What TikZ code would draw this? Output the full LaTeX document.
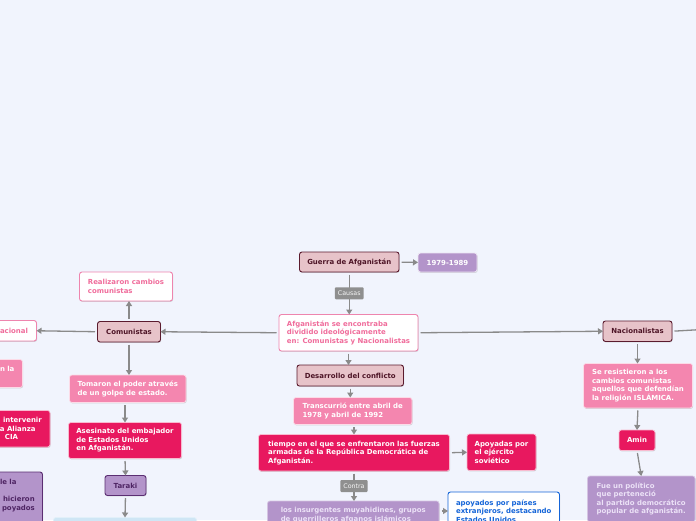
\documentclass[tikz,border=0pt]{standalone}
\usepackage{fontspec}
\setmainfont{DejaVu Sans}
\usetikzlibrary{arrows.meta,shadows}
\definecolor{bgc}{HTML}{F1F4FD}
\definecolor{palefill}{HTML}{E7C3C9}
\definecolor{maroonline}{HTML}{5B1B2E}
\definecolor{maroontext}{HTML}{4D1426}
\definecolor{purpfill}{HTML}{B394CA}
\definecolor{purpline}{HTML}{5B2E72}
\definecolor{purptext}{HTML}{4E2463}
\definecolor{lavtext}{HTML}{ECE2F7}
\definecolor{pinkmid}{HTML}{F486AF}
\definecolor{magfill}{HTML}{E8185F}
\definecolor{pinkline}{HTML}{EE85AE}
\definecolor{pinktext}{HTML}{F06C9B}
\definecolor{bluec}{HTML}{1565D8}
\definecolor{lightblue}{HTML}{CFE6F5}
\definecolor{connc}{HTML}{8A8A8A}
\definecolor{lblc}{HTML}{8F8F8F}
\newcommand\bx[7]{\node[#1, anchor=north west, minimum width=#5pt, minimum height=#6pt] (#2) at (#3,#4) {#7};}
\begin{document}
\begin{tikzpicture}[x=1pt,y=-1pt,
  boxbase/.style={rounded corners=2.5pt, inner xsep=7.5pt, inner ysep=0pt, outer sep=0pt,
    font=\bfseries\fontsize{6.95}{8.6}\selectfont, align=left,
    drop shadow={shadow xshift=0.6pt,shadow yshift=-0.9pt,opacity=0.25,fill=black!60}},
  mainbox/.style={boxbase, fill=palefill, draw=maroonline, line width=0.9pt, text=maroontext, align=center},
  wpink/.style={boxbase, fill=white, draw=pinkline, line width=0.9pt, text=pinktext},
  pinkbox/.style={boxbase, fill=pinkmid, draw=white!70!pinkmid, line width=0.7pt, text=white},
  magbox/.style={boxbase, fill=magfill, draw=white!70!magfill, line width=0.7pt, text=white},
  purpw/.style={boxbase, fill=purpfill, draw=white!75!purpfill, line width=0.8pt, text=white, align=center},
  purpd/.style={boxbase, fill=purpfill, draw=purpline, line width=0.9pt, text=purptext},
  purpl/.style={boxbase, fill=purpfill, draw=white!45!purpfill, line width=0.7pt, text=lavtext},
  bluebox/.style={boxbase, fill=white, draw=bluec, line width=0.9pt, text=bluec},
  lbbox/.style={boxbase, fill=lightblue, draw=white!40!lightblue, line width=0.7pt},
  conn/.style={draw=connc, line width=1.3pt, shorten <=2.5pt, -{Triangle[length=5pt,width=6pt]}},
  connplain/.style={draw=connc, line width=1.3pt, shorten <=2.5pt},
  lbl/.style={fill=lblc, text=white!92!lblc, rounded corners=1pt, inner xsep=3pt, inner ysep=0pt,
    minimum height=12pt, font=\fontsize{6.3}{7}\selectfont}
]
\clip (0,0) rectangle (696,520);
\fill[bgc] (0,0) rectangle (696,520);

% nodes
\bx{mainbox}{guerra}{299.5}{252}{99.5}{20}{Guerra de Afganistán}
\bx{purpw}{anos}{418}{253}{59}{19}{1979-1989}
\bx{wpink}{afg}{279}{314.5}{139}{36.5}{Afganistán se encontraba\\dividido ideológicamente\\en: Comunistas y Nacionalistas}
\bx{mainbox}{des}{297}{365}{106.5}{21}{Desarrollo del conflicto}
\bx{mainbox}{com}{97.5}{321.5}{63}{20.5}{Comunistas}
\bx{mainbox}{nac}{603}{321}{69}{20.5}{Nacionalistas}
\bx{wpink}{real}{79.5}{272}{93}{29}{Realizaron cambios\\comunistas}
\bx{wpink, text width=29pt}{acional}{-7.5}{320.5}{44}{20.5}{acional}
\bx{pinkbox, text width=15pt}{nla}{-7.5}{359.5}{30}{28}{n la\\\mbox{}}
\bx{magbox, text width=42.5pt}{interv}{-7.5}{410.5}{57.5}{36.5}{\hspace*{3pt}intervenir\\a Alianza\\\hspace*{5pt}CIA}
\bx{purpd, text width=35pt}{lefpur}{-7.5}{472}{50}{54}{le la\\\mbox{}\\\hspace*{3pt}hicieron\\\hspace*{2pt}poyados\\\mbox{}}
\bx{pinkbox}{tom}{69.5}{375}{116.5}{27.5}{Tomaron el poder através\\de un golpe de estado.}
\bx{magbox}{ases}{68.5}{422.5}{113}{36}{Asesinato del embajador\\de Estados Unidos\\en Afganistán.}
\bx{purpd, align=center}{taraki}{105}{475.5}{41}{20}{Taraki}
\bx{lbbox}{lblue}{53.5}{517.5}{143}{30}{}
\bx{pinkbox}{trans}{293.5}{397.5}{118.5}{27}{Transcurrió entre abril de\\1978 y abril de 1992}
\bx{magbox}{tiempo}{258.5}{434.5}{191}{36.5}{tiempo en el que se enfrentaron las fuerzas\\armadas de la República Democrática de\\Afganistán.}
\bx{magbox}{apoy}{467}{434}{69}{36.5}{Apoyadas por\\el ejército\\soviético}
\bx{purpl}{insur}{267.5}{501}{171.5}{28}{los insurgentes muyahidines, grupos\\de guerrilleros afganos islámicos}
\bx{bluebox}{blue}{448}{492}{111.5}{38}{apoyados por países\\extranjeros, destacando\\Estados Unidos}
\bx{pinkbox}{seres}{583.5}{363.5}{109}{44.5}{Se resistieron a los\\cambios comunistas\\aquellos que defendían\\la religión ISLÁMICA.}
\bx{magbox, align=center}{amin}{619}{430}{36}{20.5}{Amin}
\bx{purpl}{fue}{587.5}{476}{107.5}{46}{Fue un político\\que perteneció\\al partido democrático\\popular de afganistán.}
\coordinate (offR) at (702,329.5);

% connectors
\draw[conn] (guerra) -- (anos);
\draw[conn] (guerra.south) -- node[lbl]{Causas} (guerra.south |- afg.north);
\draw[conn] (afg.west) -- (com.east);
\draw[conn] (afg.east) -- (nac.west);
\draw[connplain] (nac.east) -- (offR);
\draw[conn] (com.north) -- (com.north |- real.south);
\draw[conn] (com.west) -- (acional.east);
\draw[conn] (com.south) -- (com.south |- tom.north);
\draw[conn] (ases.north |- tom.south) -- (ases.north);
\draw[conn] (ases.south) -- (taraki.north);
\draw[conn] (taraki.south) -- (lblue.north);
\draw[conn] (afg.south) -- (afg.south |- des.north);
\draw[conn] (des.south) -- (des.south |- trans.north);
\draw[conn] (tiempo.north |- trans.south) -- (tiempo.north);
\draw[conn] (tiempo.east) -- (apoy.west);
\draw[conn] (tiempo.south) -- node[lbl]{Contra} (tiempo.south |- insur.north);
\draw[conn] (insur.east |- blue.west) -- (blue.west);
\draw[conn] (nac.south) -- (nac.south |- seres.north);
\draw[conn] (seres.south) -- (amin.north);
\draw[conn] (amin.south) -- (fue.north);
\end{tikzpicture}
\end{document}
